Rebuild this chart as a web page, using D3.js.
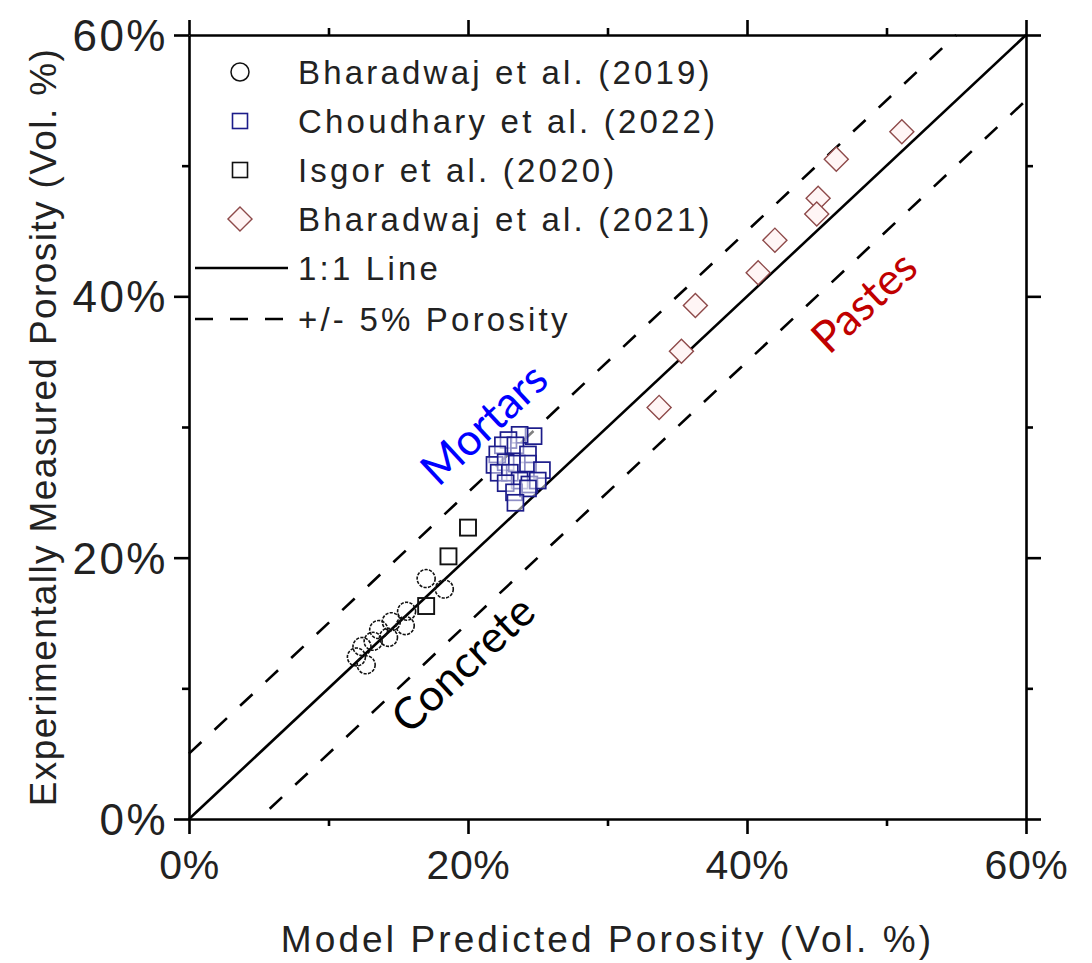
<!DOCTYPE html>
<html>
<head>
<meta charset="utf-8">
<script src="https://cdn.jsdelivr.net/npm/d3@7"></script>
<style>
  html, body { margin: 0; padding: 0; background: #ffffff; }
  svg { display: block; }
  text { font-family: "Liberation Sans", Arial, sans-serif; }
</style>
</head>
<body>
<svg id="chart" width="1092" height="963"></svg>
<script>
// ---- data: [model predicted %, measured %] ----
const bharadwaj2019 = [
  [17.0, 18.4], [18.3, 17.6], [15.6, 15.9], [15.5, 14.8], [14.5, 15.1],
  [13.6, 14.5], [14.3, 13.9], [13.2, 13.6], [12.4, 13.2], [12.0, 12.4],
  [12.7, 11.8]
];
const choudhary2022 = [
  [24.7, 29.3], [23.7, 29.4], [22.9, 29.0], [22.5, 28.6], [23.4, 28.6],
  [24.3, 27.9], [22.1, 27.9], [21.9, 27.1], [22.7, 27.3], [23.5, 27.2],
  [24.3, 27.2], [25.3, 26.7], [22.2, 26.5], [23.0, 26.5], [23.7, 25.9],
  [24.4, 25.6], [25.0, 25.9], [22.7, 25.7], [23.3, 25.0], [24.3, 25.3],
  [23.4, 24.2]
];
const isgor2020 = [[17.0, 16.3], [18.6, 20.1], [20.0, 22.3]];
const bharadwaj2021 = [
  [51.1, 52.6], [46.4, 50.5], [45.1, 47.5], [45.0, 46.3], [42.0, 44.3],
  [40.8, 41.8], [36.3, 39.3], [35.3, 35.8], [33.7, 31.5]
];
const majorTicks = [0, 20, 40, 60];
const minorTicks = [10, 30, 50];
const lineOneToOne = [[0, 0], [60, 60]];
const lineUpper = [[0, 5], [55, 60]];
const lineLower = [[5, 0], [60, 55]];
const legendLabels = [
  "Bharadwaj et al. (2019)", "Choudhary et al. (2022)", "Isgor et al. (2020)",
  "Bharadwaj et al. (2021)", "1:1 Line", "+/- 5% Porosity"
];

// ---- layout ----
const svg = d3.select("#chart");
const pLeft = 189, pRight = 1026, pTop = 35, pBottom = 819;
const x = d3.scaleLinear().domain([0, 60]).range([pLeft, pRight]);
const y = d3.scaleLinear().domain([0, 60]).range([pBottom, pTop]);
const fmt = d => d + "%";

const blue = "#1c1c8a", red = "#8e4a4a", black = "#000", ink = "#222";

// ---- axes (labelled bottom/left, mirrored top/right) ----
function styleAxis(g) {
  g.select(".domain").attr("stroke", black).attr("stroke-width", 2.6);
  g.selectAll(".tick line").attr("stroke", black).attr("stroke-width", 2.6);
}
function axisPair(axisFn, scale, transform, labels) {
  const major = axisFn(scale).tickValues(majorTicks).tickSize(15).tickSizeOuter(0)
    .tickFormat(labels ? fmt : "");
  const g = svg.append("g").attr("transform", transform).call(major).call(styleAxis);
  const minor = axisFn(scale).tickValues(minorTicks).tickSize(7).tickSizeOuter(0).tickFormat("");
  const g2 = svg.append("g").attr("transform", transform).call(minor).call(styleAxis);
  g2.select(".domain").remove();
  return g;
}
const gx = axisPair(d3.axisBottom, x, `translate(0,${pBottom})`, true);
gx.selectAll(".tick text").attr("font-size", 41).attr("fill", ink)
  .attr("letter-spacing", 0.6).attr("dy", "1.02em");
const gy = axisPair(d3.axisLeft, y, `translate(${pLeft},0)`, true);
gy.selectAll(".tick text").attr("font-size", 44).attr("fill", ink)
  .attr("letter-spacing", 2.5).attr("x", -21).attr("dy", "0.35em");
axisPair(d3.axisTop, x, `translate(0,${pTop})`, false);
axisPair(d3.axisRight, y, `translate(${pRight},0)`, false);

// ---- reference lines ----
const line = d3.line().x(d => x(d[0])).y(d => y(d[1]));
svg.append("path").attr("d", line(lineOneToOne)).attr("fill", "none")
  .attr("stroke", black).attr("stroke-width", 2.6);
svg.append("path").attr("d", line(lineUpper)).attr("fill", "none")
  .attr("stroke", black).attr("stroke-width", 2.6).attr("stroke-dasharray", "17,18");
svg.append("path").attr("d", line(lineLower)).attr("fill", "none")
  .attr("stroke", black).attr("stroke-width", 2.6).attr("stroke-dasharray", "17,18")
  .attr("stroke-dashoffset", 20);

// ---- markers ----
const sq = 16;
svg.append("g").selectAll("circle").data(bharadwaj2019).join("circle")
  .attr("cx", d => x(d[0])).attr("cy", d => y(d[1])).attr("r", 9)
  .attr("fill", "none").attr("stroke", "#111").attr("stroke-width", 1.6)
  .attr("stroke-dasharray", "3.2,1.3");
svg.append("g").selectAll("rect").data(isgor2020).join("rect")
  .attr("x", d => x(d[0]) - sq / 2).attr("y", d => y(d[1]) - sq / 2)
  .attr("width", sq).attr("height", sq)
  .attr("fill", "none").attr("stroke", "#111").attr("stroke-width", 1.9);
svg.append("g").selectAll("rect").data(choudhary2022).join("rect")
  .attr("x", d => x(d[0]) - sq / 2).attr("y", d => y(d[1]) - sq / 2)
  .attr("width", sq).attr("height", sq)
  .attr("fill", "#fff").attr("fill-opacity", 0.5)
  .attr("stroke", blue).attr("stroke-width", 1.7);
const diamond = d3.symbol().type(d3.symbolSquare).size(17 * 17);
svg.append("g").selectAll("path").data(bharadwaj2021).join("path")
  .attr("d", diamond)
  .attr("transform", d => `translate(${x(d[0])},${y(d[1])}) rotate(45)`)
  .attr("fill", "#fff5f5").attr("stroke", red).attr("stroke-width", 1.4);

// ---- legend ----
const legY = [72, 121, 170, 219, 268, 319];
const leg = svg.append("g");
leg.append("circle").attr("cx", 240).attr("cy", legY[0]).attr("r", 9)
  .attr("fill", "none").attr("stroke", "#111").attr("stroke-width", 1.5);
leg.append("rect").attr("x", 240 - 7.5).attr("y", legY[1] - 7.5).attr("width", 15).attr("height", 15)
  .attr("fill", "none").attr("stroke", blue).attr("stroke-width", 1.6);
leg.append("rect").attr("x", 240 - 7.5).attr("y", legY[2] - 7.5).attr("width", 15).attr("height", 15)
  .attr("fill", "none").attr("stroke", "#111").attr("stroke-width", 1.6);
leg.append("path").attr("d", diamond).attr("transform", `translate(240,${legY[3]}) rotate(45)`)
  .attr("fill", "#fff5f5").attr("stroke", red).attr("stroke-width", 1.4);
leg.append("line").attr("x1", 195).attr("x2", 288).attr("y1", legY[4]).attr("y2", legY[4])
  .attr("stroke", black).attr("stroke-width", 2.6);
leg.append("line").attr("x1", 195).attr("x2", 288).attr("y1", legY[5]).attr("y2", legY[5])
  .attr("stroke", black).attr("stroke-width", 2.6).attr("stroke-dasharray", "18,17");
leg.selectAll("text").data(legendLabels).join("text")
  .attr("x", 298).attr("y", (d, i) => legY[i]).attr("dy", "0.36em")
  .attr("font-size", 33).attr("letter-spacing", 3.2).attr("fill", ink).text(d => d);

// ---- region annotations ----
const notes = [
  { t: "Mortars", cx: 484, cy: 424, c: "#0000ff" },
  { t: "Concrete", cx: 463, cy: 664, c: "#000" },
  { t: "Pastes", cx: 864, cy: 302, c: "#c00000" }
];
svg.append("g").selectAll("text").data(notes).join("text")
  .attr("transform", d => `translate(${d.cx},${d.cy}) rotate(-43)`)
  .attr("text-anchor", "middle").attr("dy", "0.35em")
  .style("font-family", "Lato, 'Open Sans', sans-serif")
  .attr("font-size", 44).attr("fill", d => d.c).text(d => d.t);

// ---- axis titles ----
svg.append("text").attr("x", (pLeft + pRight) / 2).attr("y", 952)
  .attr("text-anchor", "middle").attr("font-size", 37).attr("letter-spacing", 3.1)
  .attr("fill", ink).text("Model Predicted Porosity (Vol. %)");
svg.append("text").attr("transform", `translate(56,${(pTop + pBottom) / 2}) rotate(-90)`)
  .attr("text-anchor", "middle").attr("font-size", 37).attr("letter-spacing", 1.4)
  .attr("fill", ink).text("Experimentally Measured Porosity (Vol. %)");
</script>
</body>
</html>
